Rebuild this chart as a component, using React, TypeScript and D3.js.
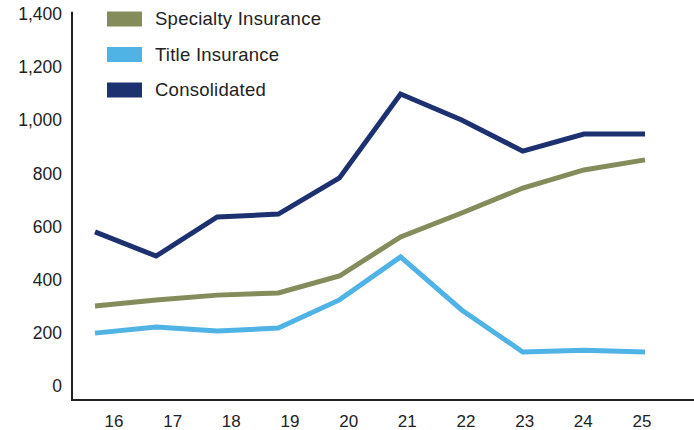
import React from "react";
import * as d3 from "d3";

const years = ["16", "17", "18", "19", "20", "21", "22", "23", "24", "25"];
const specialty = [301, 324, 342, 350, 414, 561, 651, 745, 813, 851];
const title = [199, 222, 207, 218, 324, 486, 286, 128, 135, 128];
const consolidated = [580, 489, 636, 647, 783, 1099, 1001, 884, 948, 948];
const yTicks = [0, 200, 400, 600, 800, 1000, 1200, 1400];

const seriesNames = ["Specialty Insurance", "Title Insurance", "Consolidated"];
const seriesColors = ["#848c5b", "#4fb3e6", "#1d3170"];

const width = 694;
const height = 430;

const App: React.FC = () => {
  const y = d3.scaleLinear().domain([0, 1400]).range([386, 14]);
  // lines and tick labels sit on slightly different spacings in the original
  const xLine = d3.scalePoint<string>().domain(years).range([95, 645]);
  const xLabel = d3.scalePoint<string>().domain(years).range([114, 642]);

  const line = d3
    .line<number>()
    .x((_, i) => xLine(years[i]) as number)
    .y((d) => y(d));

  const allSeries = [specialty, title, consolidated];
  const fmt = d3.format(",");
  const axisBottom = y(-53);
  const axisTop = y(1408);

  return (
    <svg
      width={width}
      height={height}
      style={{ position: "absolute", left: 0, top: 0, background: "#fff" }}
      fontFamily="'Liberation Sans', Arial, sans-serif"
    >
      {/* y tick labels */}
      {yTicks.map((t) => (
        <text
          key={t}
          x={62}
          y={y(t)}
          dy="0.35em"
          textAnchor="end"
          fontSize={17.5}
          fill="#222"
        >
          {fmt(t)}
        </text>
      ))}

      {/* axes */}
      <line x1={72} x2={72} y1={axisTop} y2={axisBottom} stroke="#222" strokeWidth={2} />
      <line x1={71} x2={width} y1={axisBottom} y2={axisBottom} stroke="#222" strokeWidth={2} />

      {/* x tick labels */}
      {years.map((yr) => (
        <text
          key={yr}
          x={xLabel(yr)}
          y={421}
          dy="0.35em"
          textAnchor="middle"
          fontSize={17}
          fill="#222"
        >
          {yr}
        </text>
      ))}

      {/* lines */}
      {allSeries.map((s, i) => (
        <path
          key={seriesNames[i]}
          d={line(s) || ""}
          fill="none"
          stroke={seriesColors[i]}
          strokeWidth={5}
          strokeLinejoin="miter"
        />
      ))}

      {/* legend */}
      {seriesNames.map((name, i) => (
        <g key={name} transform={`translate(107, ${19 + i * 35.5})`}>
          <rect x={0} y={-7.5} width={35} height={15} fill={seriesColors[i]} />
          <text x={48} y={0} dy="0.35em" fontSize={18.5} letterSpacing={0.25} fill="#222">
            {name}
          </text>
        </g>
      ))}
    </svg>
  );
};

export default App;
